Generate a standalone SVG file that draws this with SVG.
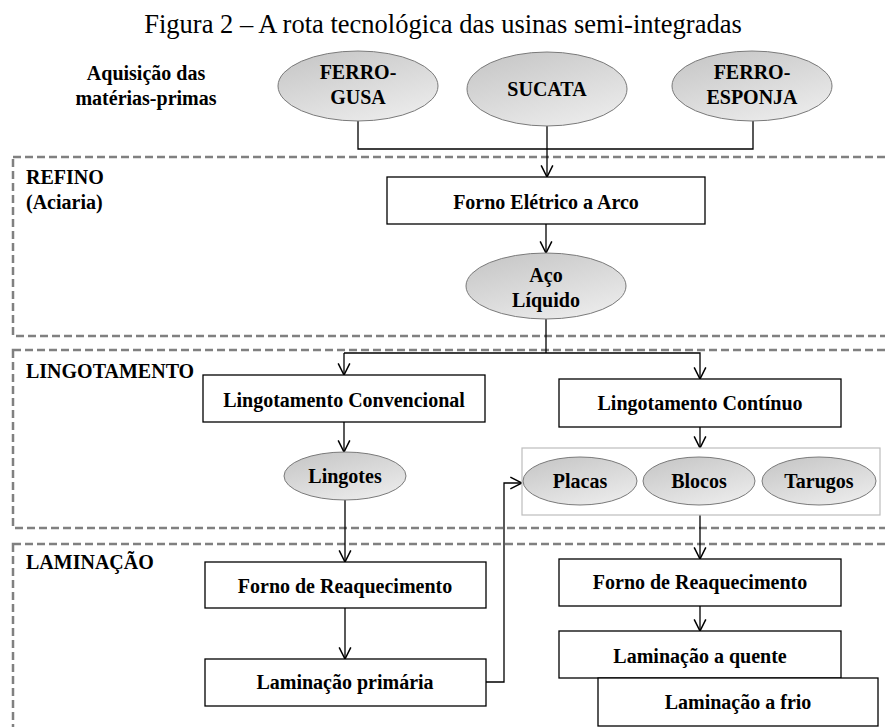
<svg xmlns="http://www.w3.org/2000/svg" width="885" height="727" viewBox="0 0 885 727">
<defs>
<linearGradient id="eg" x1="0" y1="0" x2="0.6" y2="1">
<stop offset="0" stop-color="#c4c4c4"/>
<stop offset="1" stop-color="#e9e9e9"/>
</linearGradient>
<marker id="ah" markerUnits="userSpaceOnUse" markerWidth="14" markerHeight="14" viewBox="0 0 12 12" refX="11" refY="6" orient="auto">
<path d="M1,1 L11,6 L1,11" fill="none" stroke="#000" stroke-width="1.3"/>
</marker>
</defs>
<style>
text{font-family:"Liberation Serif","Times New Roman",serif;font-weight:bold;font-size:20px;fill:#000;text-anchor:middle}
.title{font-weight:normal;font-size:26.5px}
.sec{text-anchor:start}
.zone{fill:none;stroke:#808080;stroke-width:2.5;stroke-dasharray:8 4}
.box{fill:#fff;stroke:#000;stroke-width:1.3}
.ell{fill:url(#eg);stroke:#7a7a7a;stroke-width:1}
.con{fill:none;stroke:#000;stroke-width:1.3}
.arr{fill:none;stroke:#000;stroke-width:1.3;marker-end:url(#ah)}
</style>
<rect width="885" height="727" fill="#fff"/>
<text class="title" x="443" y="33">Figura 2 – A rota tecnológica das usinas semi-integradas</text>

<g id="zones">
<rect class="zone" x="13" y="157" width="900" height="179"/>
<rect class="zone" x="13" y="350" width="900" height="178"/>
<rect class="zone" x="13" y="544" width="900" height="220"/>
</g>

<g id="labels">
<text x="146" y="80">Aquisição das</text>
<text x="146" y="105">matérias-primas</text>
<text class="sec" x="26" y="184">REFINO</text>
<text class="sec" x="26" y="209">(Aciaria)</text>
<text class="sec" x="26" y="378">LINGOTAMENTO</text>
<text class="sec" x="26" y="569">LAMINAÇÃO</text>
</g>

<g id="connectors">
<path class="con" d="M358,121 V149 H753 V121"/>
<path class="arr" d="M547,126 V177"/>
<path class="arr" d="M546,224 V253"/>
<path class="con" d="M546,319 V353"/>
<path class="arr" d="M344,353 H700 V379"/>
<path class="arr" d="M344,353 V375"/>
<path class="arr" d="M344,422 V452"/>
<path class="arr" d="M700,427 V448"/>
<path class="arr" d="M345,500 V562"/>
<path class="arr" d="M345,608 V659"/>
<path class="arr" d="M486,682 H504 V483 H522"/>
<path class="arr" d="M700,515 V559"/>
<path class="arr" d="M700,606 V631"/>
</g>

<g id="ferro-gusa">
<ellipse class="ell" cx="358" cy="86" rx="80" ry="35"/>
<text x="358" y="79">FERRO-</text>
<text x="358" y="104">GUSA</text>
</g>
<g id="sucata">
<ellipse class="ell" cx="547" cy="89" rx="80" ry="37"/>
<text x="547" y="96">SUCATA</text>
</g>
<g id="ferro-esponja">
<ellipse class="ell" cx="752" cy="86" rx="80" ry="35"/>
<text x="752" y="79">FERRO-</text>
<text x="752" y="104">ESPONJA</text>
</g>
<g id="forno-eletrico">
<rect class="box" x="387" y="177" width="318" height="47"/>
<text x="546" y="209">Forno Elétrico a Arco</text>
</g>
<g id="aco-liquido">
<ellipse class="ell" cx="546" cy="286" rx="80" ry="33"/>
<text x="546" y="282">Aço</text>
<text x="546" y="307">Líquido</text>
</g>
<g id="ling-convencional">
<rect class="box" x="203" y="375" width="282" height="47"/>
<text x="344" y="407">Lingotamento Convencional</text>
</g>
<g id="ling-continuo">
<rect class="box" x="559" y="379" width="282" height="48"/>
<text x="700" y="410">Lingotamento Contínuo</text>
</g>
<g id="lingotes">
<ellipse class="ell" cx="345" cy="476" rx="61" ry="24"/>
<text x="345" y="483">Lingotes</text>
</g>
<g id="produtos">
<rect x="522" y="448" width="358" height="67" fill="#fff" stroke="#bdbdbd" stroke-width="1.2"/>
<g id="placas">
<ellipse class="ell" cx="580" cy="481" rx="57" ry="24"/>
<text x="580" y="488">Placas</text>
</g>
<g id="blocos">
<ellipse class="ell" cx="699" cy="481" rx="56" ry="24"/>
<text x="699" y="488">Blocos</text>
</g>
<g id="tarugos">
<ellipse class="ell" cx="819" cy="481" rx="57" ry="24"/>
<text x="819" y="488">Tarugos</text>
</g>
</g>
<g id="forno-reaq-1">
<rect class="box" x="205" y="562" width="281" height="46"/>
<text x="345" y="593">Forno de Reaquecimento</text>
</g>
<g id="lam-primaria">
<rect class="box" x="205" y="659" width="281" height="47"/>
<text x="345" y="689">Laminação primária</text>
</g>
<g id="forno-reaq-2">
<rect class="box" x="559" y="559" width="282" height="47"/>
<text x="700" y="589">Forno de Reaquecimento</text>
</g>
<g id="lam-quente">
<rect class="box" x="559" y="631" width="282" height="47"/>
<text x="700" y="663">Laminação a quente</text>
</g>
<g id="lam-frio">
<rect class="box" x="598" y="678" width="280" height="48"/>
<text x="738" y="709">Laminação a frio</text>
</g>
</svg>
